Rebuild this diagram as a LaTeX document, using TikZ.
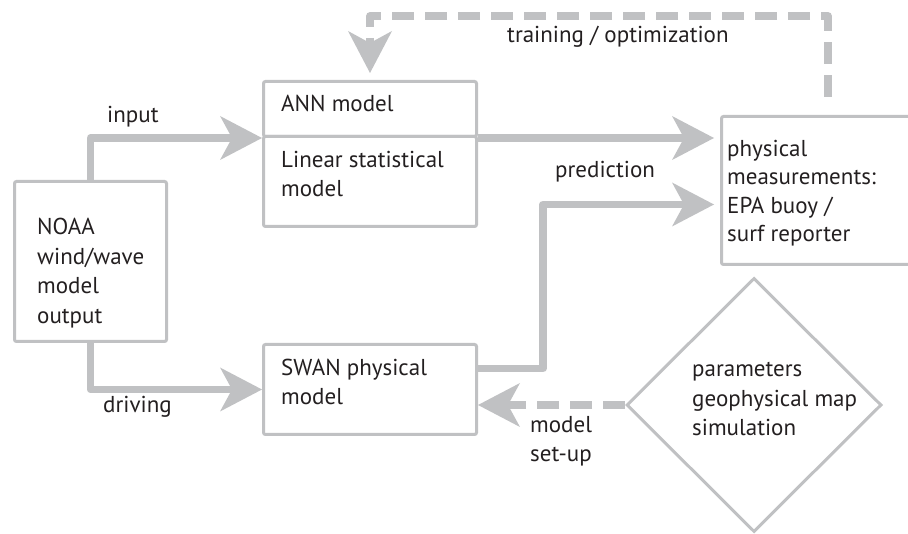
\documentclass[tikz,border=0pt]{standalone}
\usepackage{fontspec}
\setmainfont{PT Sans}
\usepackage[RGB]{xcolor}
\usepackage{tikz}
\usetikzlibrary{arrows.meta,shapes.geometric}
\definecolor{G}{RGB}{192,193,195}
\definecolor{K}{RGB}{35,31,32}
\tikzset{
  box/.style={draw=G, line width=3pt, rounded corners=2pt, inner sep=0pt, anchor=north west},
  txt/.style={text=K, font=\fontsize{23}{29.5}\selectfont, align=left, inner sep=0pt, anchor=base west},
  flow/.style={draw=G, line width=7.5pt, line join=round,
    -{Stealth[length=42pt,width=44pt,inset=12pt,line width=0pt]}},
  setup/.style={flow, dash pattern=on 22pt off 11pt},
}
\newcommand{\boxat}[4]{\node[box, minimum width=#3pt, minimum height=#4pt] (#1) at (#2) {};}

\begin{document}
\begin{tikzpicture}[x=1pt, y=-1pt]
\useasboundingbox (0,0) rectangle (908,534);
\boxat{noaa}{13,180}{152}{160}
\boxat{annbox}{262,80}{213}{55}
\boxat{linbox}{262,135}{213}{90}
\boxat{phys}{720,115}{195}{148}
\boxat{swan}{262,343}{213}{90}
\node[diamond, draw=G, line width=3pt, inner sep=0pt, minimum width=255pt, minimum height=254pt] (params) at (754,405) {};
% texts (placed at the baseline of the last line)
\node[txt] (noaatext) at (37,323.5) {NOAA\\wind/wave\\model\\output};
\node[txt] (anntext) at (281,112) {ANN model};
\node[txt] (lintext) at (281,197) {Linear statistical\\model};
\node[txt, font=\fontsize{23}{28.5}\selectfont] (phystext) at (727,242) {physical\\measurements:\\EPA buoy /\\surf reporter};
\node[txt] (swantext) at (281,405) {SWAN physical\\model};
\node[txt] (paramtext) at (692,436) {parameters\\geophysical map\\simulation};
% arrows
\draw[flow] (noaa.north) |- (annbox.south west);
\draw[flow] (noaa.south) |- (swan.west);
\draw[flow, shorten >=6pt] (annbox.south east) -- (annbox.south east -| phys.west);
\draw[flow, shorten >=6pt] ([yshift=21pt]swan.east) -- ++(65,0) |- ([yshift=-14pt]phys.west);
\draw[setup, shorten <=18pt, shorten >=7pt] ([xshift=9pt]phys.north) -- ++(0,-99) -| (annbox.north);
\draw[setup] (params.west) -- (params.west -| swan.east);
% labels
\node[txt] (inputlab) at (107,123) {input};
\node[txt] (drivelab) at (103,413) {driving};
\node[txt] (trainlab) at (507,43) {training / optimization};
\node[txt] (predlab) at (555,178) {prediction};
\node[txt] (setuplab) at (530,462) {model\\set-up};
\end{tikzpicture}
\end{document}
